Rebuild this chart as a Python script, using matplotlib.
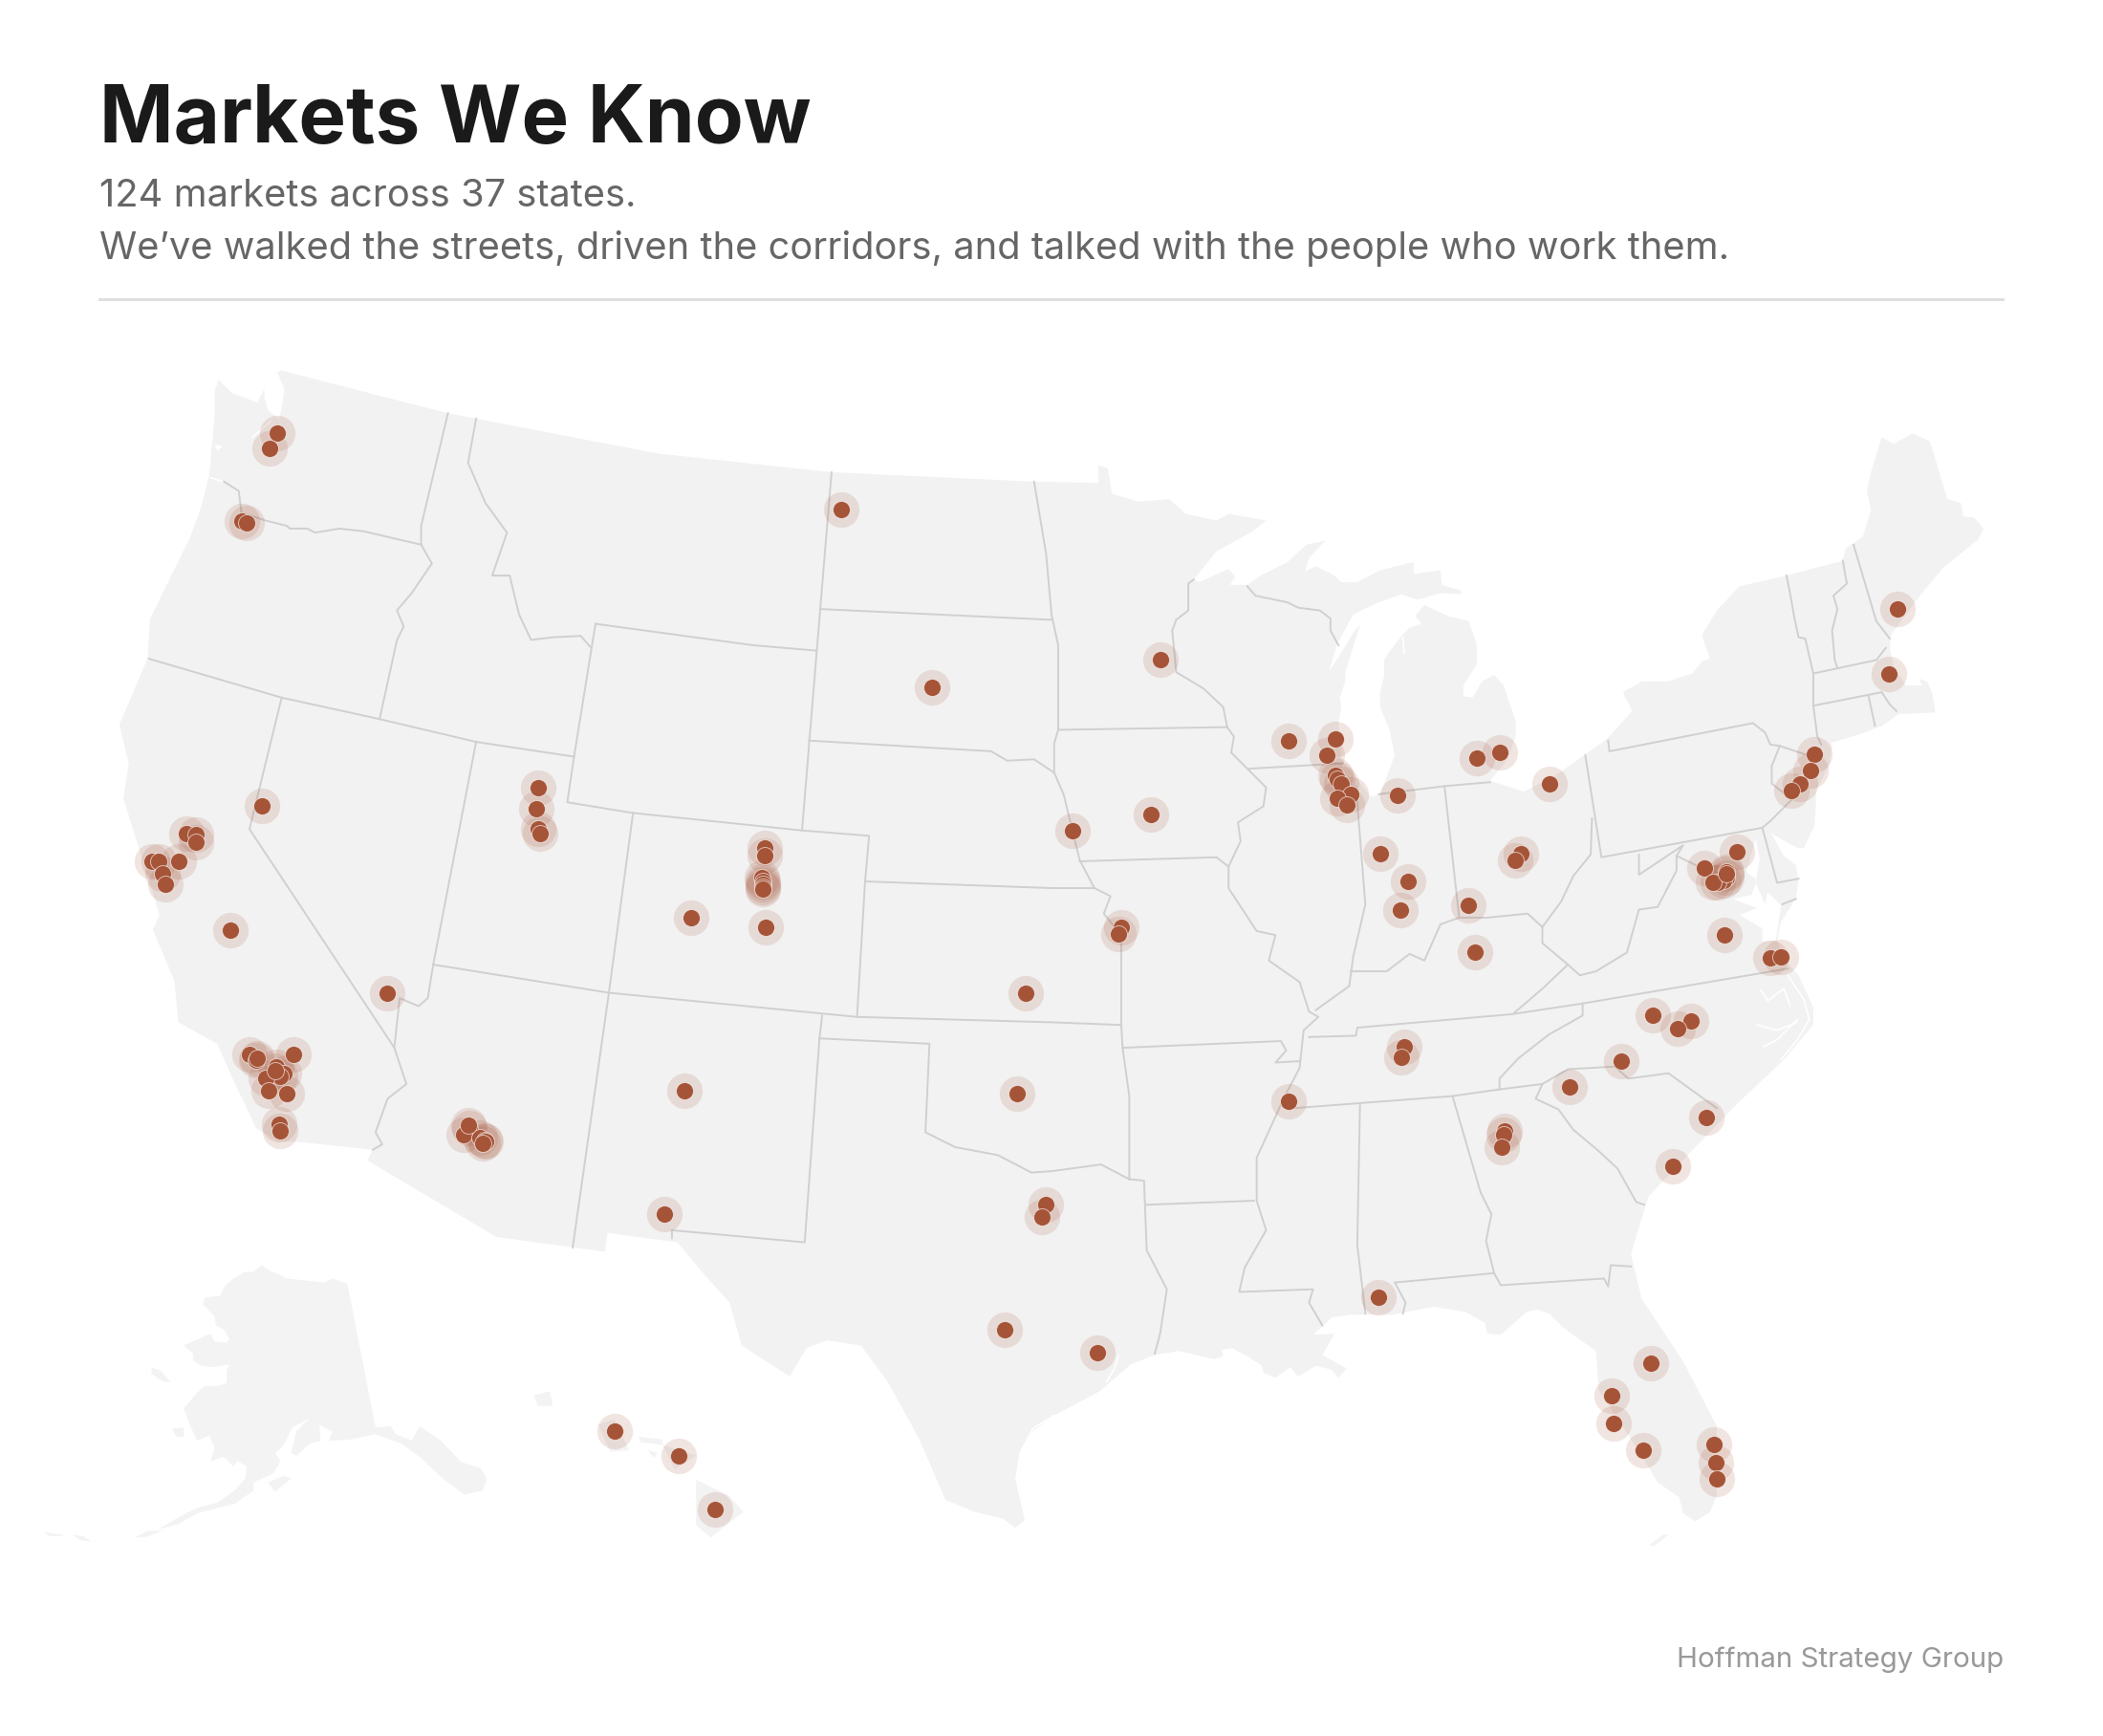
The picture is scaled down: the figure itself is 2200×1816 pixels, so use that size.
import matplotlib
matplotlib.use("Agg")
import matplotlib.pyplot as plt

WIDTH = 1568
HEIGHT = 1294

LAND_COLOR = "#f2f2f2"
BORDER_COLOR = "#d0d0d0"
DOT_COLOR = "#a65438"

market_x = [207, 201, 180, 184, 627, 695, 865, 961, 996, 989,
            996, 997, 1000, 1007, 997, 1004, 1042, 1101, 1118, 1155,
            1353, 1350, 1342, 1336, 1408, 1415, 858, 800, 1029, 1050,
            1044, 1095, 1100, 1134, 1130, 1295, 1271, 1287, 1287, 1285,
            1281, 1277, 1287, 1286, 1320, 1328, 1232, 1261, 1251, 1209,
            1170, 1272, 1247, 1122, 1121, 1120, 1047, 1045, 961, 1028,
            1231, 1202, 1203, 1225, 1278, 1279, 1280, 818, 749, 780,
            777, 758, 765, 836, 834, 570, 570, 568, 569, 569,
            569, 569, 515, 571, 510, 495, 350, 346, 358, 361,
            362, 360, 349, 401, 400, 401, 403, 289, 195, 139,
            146, 146, 113, 118, 133, 121, 123, 172, 186, 191,
            192, 219, 206, 212, 209, 198, 200, 214, 205, 208,
            209, 458, 506, 533]
market_y = [323, 334, 388, 390, 380, 512, 492, 552, 551, 563,
            578, 581, 584, 592, 595, 600, 593, 565, 561, 584,
            562, 574, 584, 589, 502, 454, 607, 619, 636, 657,
            678, 675, 710, 636, 641, 635, 647, 650, 654, 656,
            658, 658, 651, 697, 714, 713, 757, 761, 767, 791,
            810, 833, 869, 843, 846, 855, 780, 788, 821, 967,
            1016, 1040, 1061, 1081, 1077, 1090, 1102, 1008, 991, 898,
            907, 815, 740, 691, 696, 632, 638, 654, 657, 659,
            661, 663, 684, 691, 813, 905, 841, 846, 848, 850,
            851, 852, 839, 587, 603, 618, 621, 740, 601, 621,
            622, 628, 642, 642, 642, 651, 659, 693, 786, 790,
            789, 786, 795, 800, 802, 804, 813, 815, 798, 838,
            843, 1067, 1085, 1125]

land_outline = [
    (163, 283), (173, 293), (192, 300), (197, 290), (205, 279), (209, 276), (334, 308), (355, 312),
    (490, 338), (620, 352), (771, 359), (819, 360), (819, 347), (826, 349), (829, 368),
    (849, 374), (872, 372), (884, 383), (907, 388), (916, 383), (944, 388), (934, 396),
    (907, 411), (890, 432), (894, 434), (916, 424), (921, 430), (917, 436), (930, 436),
    (940, 429), (960, 419), (974, 406), (988, 403), (976, 416), (973, 426), (981, 422),
    (995, 429), (1000, 434), (1012, 434), (1029, 425), (1054, 419), (1054, 428), (1074, 425),
    (1075, 436), (1089, 440), (1090, 443), (1074, 442), (1057, 447), (1045, 443), (1028, 449),
    (1019, 453), (1009, 458), (997, 480), (991, 500), (998, 490), (1010, 470), (1014, 466),
    (1003, 501), (1003, 508), (999, 520), (1000, 527), (998, 539), (1000, 566), (1022, 594),
    (1029, 592), (1040, 563), (1036, 544), (1029, 527), (1029, 516), (1032, 504), (1032, 492),
    (1035, 487), (1045, 474), (1051, 468), (1060, 465), (1055, 459), (1062, 451), (1079, 459),
    (1095, 463), (1101, 480), (1101, 495), (1091, 511), (1091, 519), (1098, 520), (1105, 508),
    (1114, 503), (1121, 511), (1130, 537), (1130, 549), (1124, 566), (1111, 582), (1136, 590),
    (1157, 580), (1198, 551), (1217, 530), (1210, 516), (1224, 508), (1243, 508), (1262, 502),
    (1269, 493), (1275, 491), (1271, 480), (1269, 473), (1281, 454), (1297, 437), (1332, 429),
    (1374, 418), (1376, 409), (1389, 400), (1395, 380), (1392, 366), (1395, 352), (1403, 326),
    (1412, 331), (1426, 323), (1439, 329), (1452, 372), (1462, 375), (1464, 385), (1472, 386),
    (1479, 394), (1475, 402), (1449, 423), (1433, 442), (1410, 473), (1409, 483), (1412, 497),
    (1421, 511), (1433, 511), (1431, 506), (1437, 508), (1441, 518), (1443, 531), (1425, 532),
    (1416, 532), (1402, 542), (1366, 554), (1364, 570), (1354, 589), (1354, 599), (1353, 615),
    (1345, 632), (1340, 632), (1322, 622), (1319, 618), (1330, 638), (1339, 645), (1341, 656),
    (1339, 670), (1328, 687), (1325, 701), (1333, 718), (1341, 727), (1352, 751), (1352, 764),
    (1330, 790), (1296, 822), (1266, 853), (1229, 892), (1216, 935), (1224, 968), (1255, 1015),
    (1280, 1063), (1280, 1115), (1275, 1127), (1264, 1134), (1255, 1128), (1252, 1116),
    (1236, 1105), (1224, 1085), (1192, 1036), (1190, 1007), (1166, 990), (1155, 979), (1146, 976),
    (1138, 978), (1119, 995), (1109, 994), (1107, 986), (1093, 978), (1069, 974), (1038, 980),
    (1007, 980), (993, 982), (979, 995), (995, 994), (986, 1010), (1004, 1020), (998, 1027),
    (993, 1021), (981, 1018), (968, 1026), (962, 1019), (951, 1027), (942, 1023), (941, 1018),
    (930, 1011), (919, 1005), (911, 1006), (912, 1011), (905, 1013), (879, 1007), (861, 1010),
    (843, 1017), (820, 1037), (786, 1055), (770, 1067), (760, 1083), (757, 1102), (764, 1133),
    (757, 1139), (748, 1132), (727, 1127), (705, 1118), (685, 1072), (662, 1030), (642, 1003),
    (617, 999), (601, 1005), (589, 1026), (553, 1003), (544, 971), (526, 951), (505, 926),
    (453, 919), (451, 933), (370, 922), (274, 865), (278, 857), (221, 851), (208, 851),
    (191, 841), (174, 805), (162, 778), (133, 762), (130, 731), (114, 693), (119, 682),
    (92, 595), (96, 569), (89, 540), (110, 491), (112, 461), (142, 400), (150, 378), (156, 354),
    (160, 311), (160, 292),
]

alaska_outline = [
    (195, 943), (201, 947), (214, 953), (242, 956), (248, 953), (259, 957), (280, 1064),
    (291, 1063), (295, 1069), (307, 1074), (313, 1063), (329, 1074), (344, 1090), (358, 1094),
    (363, 1102), (360, 1111), (346, 1114), (330, 1102), (313, 1086), (299, 1076), (280, 1069),
    (261, 1073), (245, 1074), (248, 1067), (238, 1062), (239, 1074), (231, 1076), (221, 1085),
    (217, 1083), (221, 1067), (231, 1057), (218, 1064), (211, 1078), (205, 1083), (209, 1089),
    (204, 1098), (189, 1105), (189, 1111), (175, 1121), (162, 1124), (147, 1128), (133, 1136),
    (118, 1140), (133, 1131), (147, 1124), (162, 1120), (175, 1111), (183, 1102), (184, 1093),
    (177, 1089), (174, 1093), (167, 1086), (157, 1089), (160, 1079), (156, 1070), (147, 1074),
    (142, 1063), (137, 1050), (147, 1038), (153, 1033), (162, 1033), (169, 1031), (169, 1022),
    (171, 1017), (160, 1019), (150, 1018), (144, 1014), (144, 1009), (137, 1003), (157, 994),
    (160, 1000), (169, 1001), (171, 998), (167, 991), (161, 988), (160, 981), (151, 972),
    (153, 967), (164, 966), (168, 958), (174, 953), (183, 948), (189, 948),
]

small_islands = [
    # alaska
    [(113, 1019), (120, 1022), (127, 1030), (122, 1030), (113, 1024)],
    [(200, 1105), (212, 1100), (217, 1102), (205, 1112)],
    [(128, 1065), (137, 1064), (137, 1071), (132, 1071)],
    [(101, 1146), (110, 1141), (121, 1141), (108, 1146)],
    [(33, 1142), (47, 1144), (47, 1145), (36, 1145)],
    [(54, 1144), (62, 1145), (68, 1149), (60, 1148)],
    # hawaii
    [(519, 1103), (544, 1115), (554, 1127), (530, 1146), (519, 1137)],
    [(494, 1077), (519, 1085), (503, 1095)],
    [(446, 1062), (458, 1058), (469, 1081), (455, 1082)],
    [(398, 1040), (410, 1037), (412, 1048), (401, 1048)],
    [(476, 1071), (494, 1073), (494, 1077), (478, 1075)],
    [(483, 1081), (490, 1083), (488, 1087)],
    # florida keys
    [(1229, 1152), (1240, 1144), (1244, 1144), (1234, 1152)],
]

border_lines = [
    # northwest
    [(167, 359), (178, 366), (180, 382), (198, 388), (214, 392), (216, 394), (229, 394), (235, 397), (253, 394), (271, 396), (314, 406)],
    [(334, 308), (314, 392), (314, 406), (322, 420), (307, 442), (296, 455), (301, 467), (296, 477), (283, 536)],
    [(355, 312), (349, 345), (362, 375), (378, 397), (367, 429), (380, 429), (387, 458), (396, 477), (412, 475), (433, 474), (440, 482)],
    [(111, 491), (210, 520), (283, 536), (355, 553), (428, 564)],
    # rockies
    [(444, 465), (428, 564), (423, 598), (472, 606), (598, 619), (648, 623), (645, 657), (639, 758)],
    [(444, 465), (562, 481), (609, 485)],
    [(620, 352), (609, 485), (598, 619)],
    [(612, 454), (784, 462)],
    [(603, 552), (739, 560), (751, 567), (771, 566), (786, 576)],
    [(645, 657), (784, 662), (816, 662)],
    [(472, 606), (454, 740), (427, 930)],
    [(323, 719), (454, 740), (639, 758), (784, 762), (836, 764)],
    [(355, 553), (323, 719), (319, 744), (312, 750), (298, 744), (294, 781), (303, 808), (289, 819), (280, 844), (285, 853), (278, 857)],
    [(210, 520), (186, 618), (294, 781)],
    # plains and texas
    [(613, 757), (611, 774), (600, 926), (501, 917), (501, 923)],
    [(611, 774), (693, 778), (690, 844), (712, 855), (744, 861), (769, 874), (784, 873), (821, 868), (842, 879), (853, 880), (855, 932), (870, 961), (865, 994), (861, 1009)],
    [(836, 764), (837, 781), (842, 817), (842, 879)],
    [(837, 781), (955, 776), (959, 783), (951, 792), (969, 791)],
    [(855, 898), (935, 895)],
    # upper midwest and mississippi
    [(771, 359), (780, 413), (784, 458), (789, 481), (789, 544), (786, 554), (786, 576), (793, 592), (805, 641), (816, 662), (828, 668), (823, 681), (836, 697), (836, 764)],
    [(789, 544), (915, 542)],
    [(890, 432), (886, 435), (886, 455), (877, 462), (874, 470), (877, 501), (897, 513), (912, 527), (915, 542), (920, 549), (918, 561), (931, 574), (944, 587), (942, 601), (923, 613), (925, 627), (916, 646), (916, 662), (937, 694), (951, 697), (946, 716), (969, 732), (976, 754), (983, 758), (972, 768), (969, 796), (958, 817), (937, 863), (937, 895), (944, 917), (928, 945), (924, 963), (979, 961), (976, 971), (986, 988)],
    [(805, 642), (907, 639), (916, 646)],
    [(931, 573), (1001, 569)],
    [(930, 437), (936, 444), (960, 449), (968, 453), (984, 455), (992, 461), (992, 470), (998, 481)],
    # ohio valley
    [(1011, 586), (1018, 674), (1009, 713), (1006, 735), (981, 753)],
    [(1007, 724), (1034, 724), (1051, 711), (1062, 716), (1074, 689), (1088, 684), (1109, 684), (1139, 681), (1150, 691), (1150, 703), (1169, 719), (1150, 737), (1129, 755)],
    [(1077, 586), (1088, 684)],
    [(1028, 592), (1077, 586), (1111, 583)],
    [(1182, 563), (1194, 639), (1314, 617)],
    [(1187, 610), (1186, 637), (1173, 653), (1164, 672), (1150, 691)],
    [(1169, 719), (1178, 727), (1190, 724), (1213, 710), (1222, 678), (1236, 676), (1250, 649), (1250, 638), (1255, 630), (1240, 640), (1222, 652), (1222, 637)],
    [(1250, 638), (1271, 648)],
    # southeast
    [(976, 773), (1011, 772), (1012, 766), (1127, 756), (1180, 748), (1333, 722)],
    [(1180, 748), (1180, 757), (1155, 771), (1132, 789), (1118, 804), (1118, 812)],
    [(965, 826), (1083, 817), (1118, 812), (1150, 808), (1169, 797), (1204, 795), (1214, 804), (1244, 800), (1280, 826)],
    [(1150, 808), (1145, 819), (1162, 827), (1173, 842), (1192, 858), (1206, 871), (1220, 896), (1226, 898)],
    [(1014, 824), (1012, 928), (1018, 979)],
    [(1083, 817), (1104, 889), (1112, 905), (1108, 925), (1114, 949), (1119, 958), (1196, 953), (1199, 959), (1201, 943), (1216, 944)],
    [(1040, 956), (1114, 949)],
    [(1040, 956), (1048, 971), (1046, 979)],
    # northeast
    [(1199, 552), (1200, 560), (1307, 539), (1316, 546), (1320, 555), (1327, 556), (1348, 563)],
    [(1327, 556), (1321, 571), (1321, 584), (1336, 596), (1320, 612), (1314, 617)],
    [(1314, 617), (1325, 658), (1341, 655)],
    [(1329, 674), (1339, 670)],
    [(1332, 429), (1335, 444), (1338, 461), (1341, 475), (1346, 476), (1352, 502), (1352, 526), (1355, 549), (1358, 555)],
    [(1374, 418), (1377, 435), (1367, 444), (1370, 454), (1366, 470), (1368, 492), (1370, 498)],
    [(1382, 406), (1399, 463), (1409, 476)],
    [(1352, 502), (1399, 492), (1406, 483)],
    [(1352, 526), (1403, 516)],
    [(1393, 518), (1398, 541)],
    [(1403, 516), (1409, 525), (1414, 530)],
]

# bays and inlets that show up as white cuts in the land
water_areas = [
    [(1309, 625), (1302, 650), (1310, 656), (1306, 667), (1292, 670), (1310, 677), (1297, 682),
     (1314, 692), (1314, 702), (1324, 701), (1328, 675), (1318, 665), (1316, 674), (1309, 658), (1312, 640)],
    [(197, 285), (207, 278), (212, 290), (210, 305), (208, 312), (200, 306), (197, 296)],
    [(160, 331), (166, 333), (162, 336)],
]
water_lines = [
    [(1313, 738), (1318, 746), (1330, 737), (1335, 750)],
    [(1310, 764), (1325, 768), (1340, 762)],
    [(1315, 780), (1325, 775), (1340, 760)],
    [(1333, 727), (1345, 745), (1349, 760), (1340, 775), (1328, 790)],
    [(1366, 554), (1385, 549), (1402, 542)],
    [(1046, 475), (1047, 487)],
    [(157, 356), (166, 359)],
    [(188, 326), (202, 314)],
    [(786, 1055), (770, 1065), (761, 1082), (759, 1102), (763, 1125)],
    [(834, 1010), (831, 1020), (825, 1030)],
]

fig = plt.figure(figsize=(11, 9.08), dpi=200)
ax = fig.add_axes([0, 0, 1, 1])
ax.set_xlim(0, WIDTH)
ax.set_ylim(HEIGHT, 0)
ax.axis("off")

ax.fill(*zip(*land_outline), color=LAND_COLOR, lw=0)
ax.fill(*zip(*alaska_outline), color="#f3f3f3", lw=0)
for island in small_islands:
    ax.fill(*zip(*island), color="#f3f3f3", lw=0)

for area in water_areas:
    ax.fill(*zip(*area), color="white", lw=0)
for line in water_lines:
    ax.plot(*zip(*line), color="white", lw=0.6)
for line in border_lines:
    ax.plot(*zip(*line), color=BORDER_COLOR, lw=0.7, solid_joinstyle="round")

ax.scatter(market_x, market_y, s=180, color=DOT_COLOR, alpha=0.15, lw=0, zorder=3)
ax.scatter(market_x, market_y, s=42, color=DOT_COLOR, edgecolor="#ffffff99", lw=0.35, zorder=4)

ax.text(74, 106, "Markets We Know", family="Inter", weight="bold", size=30.0, color="#1a1a1a", va="baseline")
ax.text(74, 154, "124 markets across 37 states.", family="Inter", size=14.35, color="#666666", va="baseline")
ax.text(74, 193, "We\u2019ve walked the streets, driven the corridors, and talked with the people who work them.",
        family="Inter", size=14.35, color="#666666", va="baseline")
ax.plot([74, 1493], [223, 223], color="#dddddd", lw=1.0)
ax.text(1494, 1243, "Hoffman Strategy Group", family="Inter", size=10.65, color="#999999", va="baseline", ha="right")

fig.savefig("out.png", dpi=200)
